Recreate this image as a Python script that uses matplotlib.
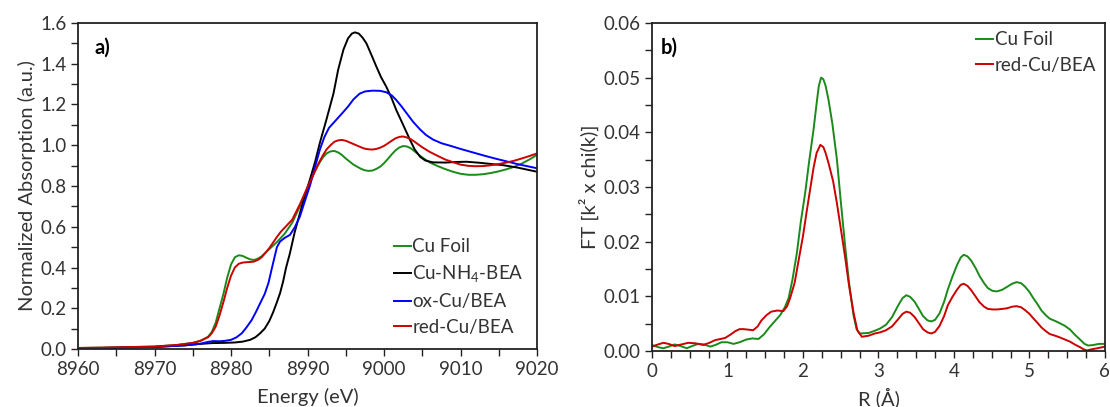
import matplotlib
matplotlib.use("Agg")
import matplotlib.pyplot as plt
from matplotlib.ticker import MultipleLocator, FormatStrFormatter

plt.rcParams['font.family'] = ['Lato', 'DejaVu Sans']
FS = 13.5
LFS = 14.5

# ---- panel a) XANES ----
e_foil = [8960, 8965, 8970, 8973, 8975, 8976, 8977, 8977.5, 8978, 8978.5, 8979, 8979.5, 8980,
          8980.5, 8981, 8981.5, 8982, 8982.5, 8983, 8983.5, 8984, 8985, 8986, 8987, 8988, 8989,
          8990, 8991, 8991.5, 8992, 8992.5, 8993, 8993.5, 8994, 8994.5, 8995, 8996, 8997,
          8997.5, 8998, 8998.5, 8999, 8999.5, 9000, 9000.5, 9001, 9001.5, 9002, 9002.5, 9003,
          9003.5, 9004, 9005, 9006, 9007, 9008, 9009, 9010, 9011, 9012, 9013, 9014, 9015,
          9016, 9017, 9018, 9019, 9020]
mu_foil = [0.005, 0.008, 0.012, 0.02, 0.03, 0.04, 0.06, 0.085, 0.13, 0.2, 0.27, 0.35, 0.415,
           0.45, 0.46, 0.457, 0.448, 0.44, 0.437, 0.443, 0.455, 0.49, 0.525, 0.565, 0.62, 0.70,
           0.79, 0.875, 0.91, 0.94, 0.96, 0.97, 0.972, 0.965, 0.952, 0.935, 0.905, 0.884,
           0.877, 0.874, 0.876, 0.884, 0.895, 0.912, 0.933, 0.955, 0.975, 0.989, 0.996, 0.994,
           0.985, 0.97, 0.94, 0.915, 0.898, 0.883, 0.87, 0.86, 0.855, 0.855, 0.858, 0.864, 0.872,
           0.882, 0.894, 0.91, 0.93, 0.953]

e_nh4 = [8960, 8965, 8970, 8974, 8976, 8977.5, 8979, 8980.5, 8981.5, 8982.5, 8983.2, 8983.8,
         8984.4, 8985, 8985.5, 8986, 8986.4, 8986.8, 8987.2, 8987.7, 8988.3, 8989, 8989.6,
         8990.3, 8991, 8991.6, 8992.5, 8993.4, 8994, 8994.7, 8995.3, 8995.8, 8996.2, 8996.7,
         8997.2, 8997.7, 8998.3, 8999, 8999.6, 9000.3, 9001, 9001.6, 9002.5, 9003.4, 9004,
         9004.7, 9005.4, 9006.4, 9008, 9009.5, 9010.8, 9012.5, 9014, 9015.6, 9017.5, 9020]
mu_nh4 = [0.003, 0.006, 0.01, 0.018, 0.025, 0.029, 0.03, 0.032, 0.036, 0.045, 0.058, 0.077,
          0.10, 0.137, 0.18, 0.23, 0.273, 0.33, 0.40, 0.47, 0.57, 0.666, 0.745, 0.83, 0.92,
          1.01, 1.13, 1.255, 1.37, 1.47, 1.525, 1.548, 1.554, 1.548, 1.528, 1.50, 1.448,
          1.386, 1.335, 1.287, 1.23, 1.173, 1.10, 1.026, 0.98, 0.944, 0.925, 0.916, 0.915,
          0.918, 0.919, 0.914, 0.908, 0.902, 0.89, 0.87]

e_ox = [8960, 8965, 8970, 8974, 8976, 8977, 8977.7, 8978.5, 8979.2, 8980, 8980.7, 8981.4, 8982,
        8982.7, 8983.3, 8983.8, 8984.4, 8984.9, 8985.3, 8985.7, 8986, 8986.4, 8987, 8987.7,
        8988.3, 8989, 8989.6, 8990.3, 8991, 8991.6, 8992.2, 8992.8, 8993.4, 8994, 8994.6,
        8995.3, 8996, 8996.8, 8997.5, 8998.5, 8999.5, 9000.3, 9001, 9001.6, 9002.3, 9003,
        9003.8, 9004.7, 9005.5, 9006.4, 9007.5, 9008.7, 9010, 9011.5, 9013, 9014.5, 9016,
        9017.5, 9019, 9020]
mu_ox = [0.003, 0.006, 0.01, 0.018, 0.026, 0.035, 0.039, 0.038, 0.04, 0.045, 0.057, 0.077,
         0.105, 0.142, 0.185, 0.224, 0.27, 0.325, 0.39, 0.453, 0.5, 0.527, 0.545, 0.56, 0.595,
         0.65, 0.72, 0.80, 0.895, 0.977, 1.04, 1.085, 1.11, 1.135, 1.16, 1.19, 1.225, 1.253,
         1.264, 1.268, 1.267, 1.26, 1.245, 1.222, 1.19, 1.155, 1.115, 1.078, 1.05, 1.028,
         1.01, 0.997, 0.982, 0.966, 0.95, 0.935, 0.921, 0.907, 0.895, 0.887]

e_red = [8960, 8965, 8970, 8973, 8975, 8976, 8977, 8977.5, 8978, 8978.5, 8979, 8979.5, 8980,
         8980.5, 8981, 8981.5, 8982, 8982.5, 8983, 8983.5, 8984, 8985, 8986, 8986.5, 8987,
         8988, 8989, 8990, 8991, 8991.5, 8992, 8992.5, 8993, 8993.5, 8994, 8994.5, 8995, 8996,
         8997, 8997.5, 8998, 8998.5, 8999, 8999.5, 9000, 9000.5, 9001, 9001.5, 9002, 9002.5,
         9003, 9003.5, 9004, 9005, 9006, 9007, 9008, 9009, 9010, 9011, 9012, 9013, 9014,
         9015, 9016, 9017, 9018, 9019, 9020]
mu_red = [0.005, 0.008, 0.012, 0.02, 0.03, 0.04, 0.058, 0.078, 0.11, 0.165, 0.23, 0.30, 0.36,
          0.40, 0.418, 0.424, 0.426, 0.427, 0.429, 0.437, 0.45, 0.495, 0.55, 0.575, 0.595,
          0.635, 0.71, 0.795, 0.875, 0.915, 0.95, 0.98, 1.0, 1.017, 1.024, 1.026, 1.022, 1.006,
          0.99, 0.983, 0.98, 0.979, 0.982, 0.988, 0.997, 1.009, 1.022, 1.034, 1.041, 1.043,
          1.038, 1.03, 1.017, 0.99, 0.967, 0.948, 0.93, 0.917, 0.905, 0.899, 0.897, 0.898,
          0.902, 0.908, 0.915, 0.924, 0.935, 0.947, 0.96]

# ---- panel b) FT EXAFS ----
r_foil = [0.0, 0.08, 0.15, 0.22, 0.30, 0.38, 0.46, 0.53, 0.61, 0.69, 0.77, 0.84, 0.92, 1.0,
          1.08, 1.16, 1.25, 1.33, 1.41, 1.48, 1.56, 1.63, 1.70, 1.76, 1.81, 1.86, 1.92, 1.97,
          2.03, 2.08, 2.14, 2.18, 2.21, 2.24, 2.27, 2.30, 2.34, 2.39, 2.45, 2.50, 2.56, 2.61,
          2.67, 2.71, 2.75, 2.87, 2.95, 3.02, 3.10, 3.18, 3.26, 3.32, 3.37, 3.42, 3.48, 3.54,
          3.59, 3.65, 3.70, 3.75, 3.81, 3.87, 3.92, 3.98, 4.04, 4.09, 4.13, 4.18, 4.23, 4.29,
          4.34, 4.40, 4.45, 4.51, 4.57, 4.64, 4.70, 4.77, 4.83, 4.89, 4.94, 5.0, 5.05, 5.11,
          5.16, 5.22, 5.27, 5.34, 5.40, 5.47, 5.54, 5.60, 5.67, 5.73, 5.78, 5.85, 5.92, 6.0]
ft_foil = [0.0011, 0.0007, 0.0005, 0.0008, 0.0012, 0.0009, 0.0005, 0.0009, 0.0013, 0.0012,
           0.0008, 0.0011, 0.0016, 0.0016, 0.0013, 0.0016, 0.0021, 0.0023, 0.0022, 0.0030,
           0.0044, 0.0055, 0.0066, 0.0080, 0.0097, 0.013, 0.018, 0.0235, 0.029, 0.0345, 0.0405,
           0.0452, 0.0485, 0.0500, 0.0497, 0.0485, 0.0458, 0.0415, 0.035, 0.0275, 0.019,
           0.0125, 0.0065, 0.0040, 0.0032, 0.0033, 0.0037, 0.0041, 0.0048, 0.0062, 0.0083,
           0.0097, 0.0102, 0.0099, 0.0090, 0.0076, 0.0064, 0.0056, 0.0054, 0.0057, 0.0069,
           0.0090, 0.0113, 0.0136, 0.0157, 0.0171, 0.0176, 0.0173, 0.0165, 0.0151, 0.0137,
           0.0124, 0.0115, 0.0110, 0.0109, 0.0112, 0.0117, 0.0123, 0.0126, 0.0124, 0.0118,
           0.0108, 0.0097, 0.0085, 0.0074, 0.0065, 0.0059, 0.0055, 0.0051, 0.0046, 0.0039,
           0.0030, 0.0021, 0.0013, 0.0010, 0.0011, 0.0013, 0.0013]

r_red = [0.0, 0.08, 0.15, 0.22, 0.30, 0.39, 0.48, 0.58, 0.68, 0.76, 0.84, 0.91, 0.97, 1.04,
         1.10, 1.16, 1.21, 1.28, 1.34, 1.40, 1.45, 1.52, 1.58, 1.66, 1.74, 1.79, 1.83, 1.89,
         1.94, 2.00, 2.05, 2.10, 2.14, 2.18, 2.23, 2.27, 2.30, 2.34, 2.40, 2.45, 2.50, 2.56,
         2.61, 2.67, 2.72, 2.78, 2.87, 2.95, 3.02, 3.10, 3.18, 3.26, 3.32, 3.37, 3.42, 3.48,
         3.54, 3.59, 3.65, 3.70, 3.75, 3.81, 3.87, 3.92, 3.98, 4.04, 4.09, 4.13, 4.18, 4.23,
         4.29, 4.34, 4.40, 4.45, 4.51, 4.57, 4.64, 4.70, 4.77, 4.83, 4.89, 4.94, 5.0, 5.05,
         5.11, 5.16, 5.22, 5.27, 5.34, 5.40, 5.47, 5.54, 5.60, 5.67, 5.72, 5.76, 5.82, 5.90,
         6.0]
ft_red = [0.0008, 0.0012, 0.0015, 0.0013, 0.0009, 0.0012, 0.0015, 0.0014, 0.0011, 0.0015,
          0.0020, 0.0022, 0.0024, 0.0030, 0.0036, 0.0040, 0.0040, 0.0039, 0.0038, 0.0045,
          0.0056, 0.0066, 0.0072, 0.0074, 0.0073, 0.0082, 0.0097, 0.0125, 0.0164, 0.021,
          0.0256, 0.030, 0.0335, 0.0362, 0.0377, 0.0373, 0.0362, 0.0343, 0.031, 0.0270,
          0.0225, 0.0170, 0.0120, 0.0070, 0.0038, 0.0026, 0.0028, 0.0032, 0.0034, 0.0038,
          0.0045, 0.0058, 0.0068, 0.0072, 0.0070, 0.0062, 0.0050, 0.0040, 0.0034, 0.0032,
          0.0035, 0.0046, 0.0064, 0.0084, 0.0099, 0.0112, 0.0121, 0.0123, 0.0119, 0.0111,
          0.0099, 0.0089, 0.0081, 0.0077, 0.0076, 0.0076, 0.0077, 0.0078, 0.0081, 0.0082,
          0.0080, 0.0075, 0.0068, 0.0060, 0.0051, 0.0043, 0.0036, 0.0031, 0.0028, 0.0025,
          0.0021, 0.0017, 0.0012, 0.0007, 0.0003, 0.0001, 0.0003, 0.0005, 0.0008]

GREEN = '#1a8a1a'
RED = '#cc0000'
BLUE = '#0000ff'
TXT = '#333333'
LW = 1.4

fig = plt.figure(figsize=(11.1, 4.07), dpi=100, facecolor='w')
ax1 = fig.add_axes([0.0703, 0.1425, 0.4135, 0.801])
ax2 = fig.add_axes([0.5874, 0.1376, 0.408, 0.806])

ax1.plot(e_foil, mu_foil, color=GREEN, lw=LW, label='Cu Foil')
ax1.plot(e_nh4, mu_nh4, color='black', lw=LW, label='Cu-NH$_\\mathregular{4}$-BEA')
ax1.plot(e_ox, mu_ox, color=BLUE, lw=LW, label='ox-Cu/BEA')
ax1.plot(e_red, mu_red, color=RED, lw=LW, label='red-Cu/BEA')
ax1.set_xlim(8960, 9020)
ax1.set_ylim(0, 1.6)
ax1.xaxis.set_major_locator(MultipleLocator(10))
ax1.xaxis.set_minor_locator(MultipleLocator(5))
ax1.yaxis.set_major_locator(MultipleLocator(0.2))
ax1.yaxis.set_minor_locator(MultipleLocator(0.1))
ax1.yaxis.set_major_formatter(FormatStrFormatter('%.1f'))
ax1.set_xlabel('Energy (eV)', color=TXT, labelpad=7, fontsize=LFS)
ax1.set_ylabel('Normalized Absorption (a.u.)', color=TXT, labelpad=3, fontsize=LFS)
ax1.text(0.035, 0.925, 'a)', transform=ax1.transAxes, fontweight='bold', fontsize=FS + 1,
         va='center', ha='left')
ax1.legend(loc='lower right', bbox_to_anchor=(1.0, 0.0), frameon=False, handlelength=0.9,
           handletextpad=0.1, labelspacing=0.45, fontsize=FS, labelcolor=TXT,
           borderaxespad=0.3)

ax2.plot(r_foil, ft_foil, color=GREEN, lw=LW, label='Cu Foil')
ax2.plot(r_red, ft_red, color=RED, lw=LW, label='red-Cu/BEA')
ax2.set_xlim(0, 6)
ax2.set_ylim(0, 0.06)
ax2.xaxis.set_major_locator(MultipleLocator(1))
ax2.xaxis.set_minor_locator(MultipleLocator(0.25))
ax2.yaxis.set_major_locator(MultipleLocator(0.01))
ax2.yaxis.set_minor_locator(MultipleLocator(0.005))
ax2.yaxis.set_major_formatter(FormatStrFormatter('%.2f'))
ax2.set_xlabel('R (Å)', color=TXT, labelpad=5, fontsize=LFS)
ax2.set_ylabel('FT [k² x chi(k)]', color=TXT, labelpad=3, fontsize=LFS)
ax2.text(0.02, 0.925, 'b)', transform=ax2.transAxes, fontweight='bold', fontsize=FS + 1,
         va='center', ha='left')
ax2.legend(loc='upper right', bbox_to_anchor=(1.0, 1.0), frameon=False, handlelength=0.9,
           handletextpad=0.1, labelspacing=0.45, fontsize=FS, labelcolor=TXT,
           borderaxespad=0.05)

for ax in (ax1, ax2):
    for s in ax.spines.values():
        s.set_linewidth(1.3)
        s.set_color('#222222')
    ax.tick_params(which='both', direction='out', length=5, width=1.0, colors='#222222',
                   labelcolor=TXT, labelsize=FS)

fig.savefig('out.png', dpi=100)
